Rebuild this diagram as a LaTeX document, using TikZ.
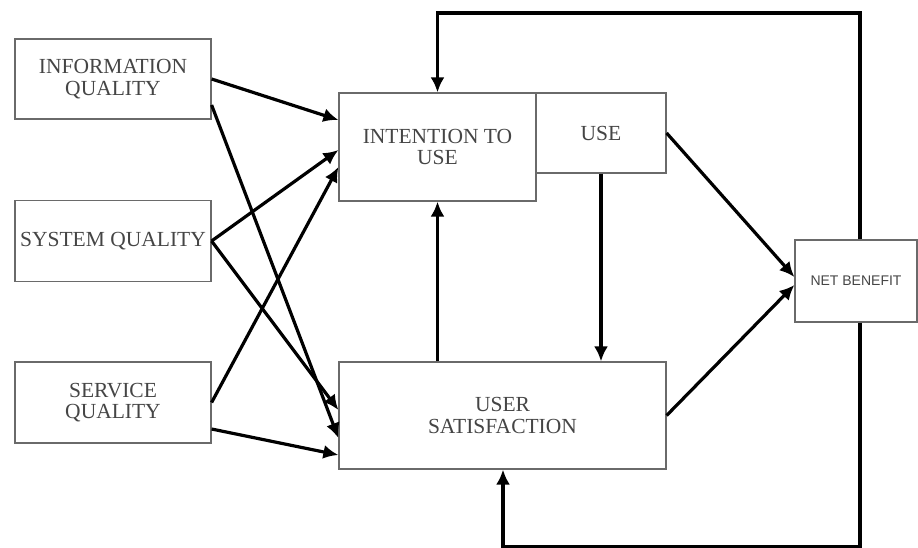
\documentclass[tikz,border=0pt]{standalone}
\usepackage{fontspec}
\setmainfont{Liberation Serif}
\newfontfamily\nbfont{Liberation Sans}
\usetikzlibrary{arrows.meta,calc}
\definecolor{boxline}{HTML}{6A6A6A}
\definecolor{boxtext}{HTML}{454545}
\begin{document}
\begin{tikzpicture}[x=1pt,y=-1pt,
  blockbox/.style={draw=boxline, line width=1.2pt, inner sep=0pt, align=center,
    text=boxtext, font=\fontsize{21.5}{21.5}\selectfont},
  link/.style={line width=3.2pt, -{Latex[length=15pt,width=14pt]}}]
\useasboundingbox (0,0) rectangle (918,548);

% independent constructs
\node[blockbox, minimum width=196pt, minimum height=80pt] (info) at (113,79)
  {INFORMATION\\QUALITY};
\node[blockbox, minimum width=196pt, minimum height=81pt] (sys) at (113,241)
  {SYSTEM QUALITY};
\node[blockbox, minimum width=196pt, minimum height=81pt] (serv) at (113,402.5)
  {SERVICE\\QUALITY};

% use, satisfaction and benefit
\node[blockbox, minimum width=197pt, minimum height=108pt] (itu) at (437.5,147)
  {INTENTION TO\\USE};
\node[blockbox, minimum width=130pt, minimum height=80pt] (use) at (601,133)
  {USE};
\node[blockbox, minimum width=327pt, minimum height=107pt] (us) at (502.5,415.5)
  {USER\\SATISFACTION};
\node[blockbox, minimum width=122pt, minimum height=82pt,
  font=\nbfont\fontsize{14}{14}\selectfont] (nb) at (856,281) {NET BENEFIT};

% quality dimensions to intention/use and satisfaction
\draw[link] (info.east) -- (itu.west |- 0,120);
\draw[link] (info.east |- 0,105) -- (us.west |- 0,438);
\draw[link] (sys.east) -- (itu.west |- 0,150);
\draw[link] (sys.east) -- (us.west |- 0,410);
\draw[link] (serv.east) -- (itu.west |- 0,167);
\draw[link] (serv.east |- 0,429) -- (us.west |- 0,455);

% internal links
\draw[link] (itu.south |- us.north) -- (itu.south);
\draw[link] (use.south) -- (use.south |- us.north);
\draw[link] (use.east) -- (nb.west |- 0,277);
\draw[link] (us.east) -- (nb.west |- 0,285);

% feedback loops from net benefit
\coordinate (topR) at (860,13);
\coordinate (botR) at (860,547);
\coordinate (usIn) at (503,0);
\draw[link] (nb.north -| topR) -- (topR) -| (itu.north);
\draw[link] (nb.south -| botR) -- (botR) -| (us.south -| usIn);
\end{tikzpicture}
\end{document}
